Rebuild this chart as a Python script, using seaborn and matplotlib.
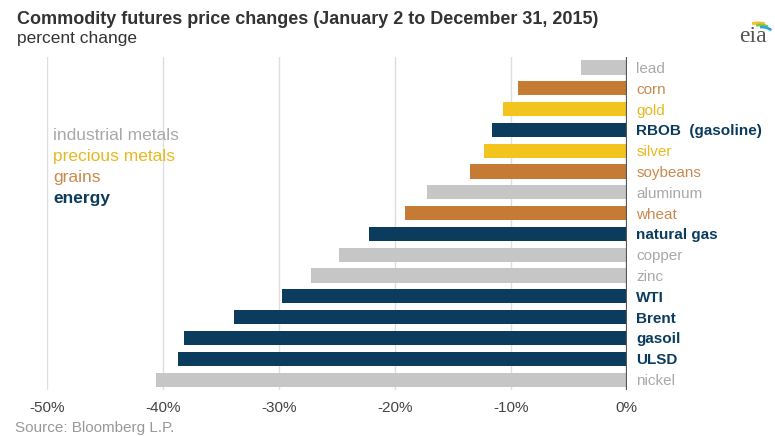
"""
Commodity futures price changes, 2015 (horizontal bar chart).
"""
import pandas as pd
import matplotlib.pyplot as plt
from matplotlib.patches import Arc
import seaborn as sns

sns.set_style("white")
plt.rcParams["font.family"] = ["Liberation Sans", "DejaVu Sans"]

COMMODITIES = ["lead", "corn", "gold", "RBOB  (gasoline)", "silver", "soybeans",
               "aluminum", "wheat", "natural gas", "copper", "zinc", "WTI",
               "Brent", "gasoil", "ULSD", "nickel"]
CHANGES = [-3.9, -9.4, -10.7, -11.6, -12.3, -13.5, -17.2, -19.1, -22.2,
           -24.8, -27.2, -29.7, -33.9, -38.2, -38.7, -40.6]
GROUPS = ["industrial metals", "grains", "precious metals", "energy",
          "precious metals", "grains", "industrial metals", "grains", "energy",
          "industrial metals", "industrial metals", "energy", "energy",
          "energy", "energy", "industrial metals"]
GROUP_ORDER = ["industrial metals", "precious metals", "grains", "energy"]
BAR_COLORS = {"industrial metals": "#c6c6c6", "precious metals": "#f3c41d",
              "grains": "#c57b33", "energy": "#0b3c5d"}
TEXT_COLORS = {"industrial metals": "#a9a9a9", "precious metals": "#e8b820",
               "grains": "#c98a4e", "energy": "#0b3c5d"}
X_TICKS = [-50, -40, -30, -20, -10, 0]


def _logo(fig):
    # small eia mark, top right
    lax = fig.add_axes([732 / 775, 1 - 48 / 436, 40 / 775, 36 / 436])
    lax.set_xlim(0, 40)
    lax.set_ylim(0, 36)
    lax.axis("off")
    lax.add_patch(Arc((26, 14), 34, 22, theta1=55, theta2=120, color="#f2c230", lw=2.2))
    lax.add_patch(Arc((28, 12), 30, 22, theta1=50, theta2=110, color="#8cc63f", lw=2.0))
    lax.add_patch(Arc((30, 10), 26, 22, theta1=40, theta2=100, color="#29a8e0", lw=2.0))
    lax.text(21, 11, "eia", fontsize=17, color="#555555", ha="center", va="center",
             family="Liberation Serif")


def main():
    df = pd.DataFrame({"commodity": COMMODITIES, "change": CHANGES, "group": GROUPS})

    fig = plt.figure(figsize=(7.75, 4.36), dpi=100)
    ax = fig.add_axes([0.0606, 0.1055, 0.748, 0.7637])

    sns.barplot(data=df, x="change", y="commodity", hue="group", palette=BAR_COLORS,
                dodge=False, width=0.68, legend=False, ax=ax, saturation=1,
                linewidth=0)

    ax.set_xlim(-50, 0)
    ax.set_ylim(len(COMMODITIES) - 0.5, -0.5)
    ax.set_xticks(X_TICKS)
    ax.set_xticklabels([f"{t}%" for t in X_TICKS], fontsize=11, color="#444444")
    ax.tick_params(axis="x", length=0, pad=8)
    for t in X_TICKS[:-1]:
        ax.axvline(t, color="#dedede", lw=1, zorder=0)
    ax.axvline(0, color="#555555", lw=1.6, zorder=3)
    for s in ax.spines.values():
        s.set_visible(False)

    ax.yaxis.tick_right()
    ax.tick_params(axis="y", length=0, pad=7)
    ax.set_xlabel("")
    ax.set_ylabel("")
    for lbl, grp in zip(ax.get_yticklabels(), GROUPS):
        lbl.set_color(TEXT_COLORS[grp])
        lbl.set_fontsize(11)
        if grp == "energy":
            lbl.set_fontweight("bold")

    # category key
    for i, grp in enumerate(GROUP_ORDER):
        fig.text(53 / 775, 1 - (136 + i * 20.7) / 436, grp, color=TEXT_COLORS[grp],
                 fontsize=12.5, va="center", fontweight="bold" if grp == "energy" else "normal")

    fig.text(17 / 775, 1 - 19 / 436,
             "Commodity futures price changes (January 2 to December 31, 2015)",
             fontsize=13, fontweight="bold", color="#333333", va="center")
    fig.text(17 / 775, 1 - 39 / 436, "percent change", fontsize=12.5,
             color="#333333", va="center")
    fig.text(15 / 775, 1 - 428 / 436, "Source: Bloomberg L.P.", fontsize=11,
             color="#999999", va="center")
    _logo(fig)

    fig.savefig("out.png", dpi=100)
    plt.close(fig)


if __name__ == "__main__":
    main()
